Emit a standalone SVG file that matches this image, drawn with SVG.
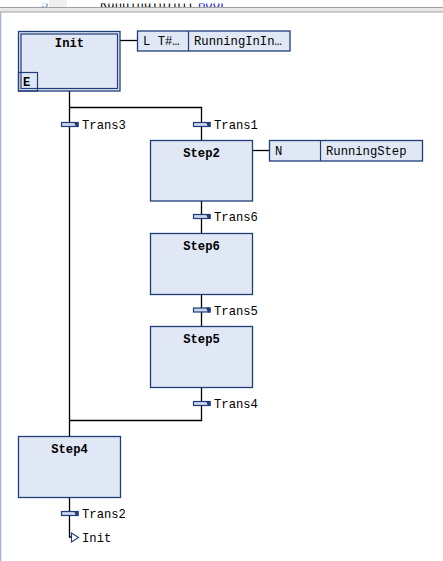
<svg xmlns="http://www.w3.org/2000/svg" width="443" height="561" viewBox="0 0 443 561">
<defs>
<style>
.step{fill:#e1e8f5;stroke:#1f3d78;stroke-width:1.3}
.act{fill:#e1e8f5;stroke:#1f3d78;stroke-width:1.3}
.ln{stroke:#000;stroke-width:1.3;fill:none}
.t{font-family:"Liberation Mono",monospace;font-size:12.2px;fill:#000}
.b{font-weight:bold;text-anchor:middle}
.bar{fill:#c9d5ea;stroke:#1f3d78;stroke-width:1.2}
.notch{fill:#1f3d78}
</style>
<clipPath id="topclip"><rect x="0" y="3.5" width="443" height="3.5"/></clipPath>
</defs>
<rect x="0" y="0" width="443" height="561" fill="#fff"/>
<g id="header">
<rect x="49" y="0" width="18" height="7" fill="#f0f0f0"/>
<g clip-path="url(#topclip)">
<text x="41" y="7.5" class="t" style="fill:#6a8ab8">5</text>
<text x="100" y="7.5" class="t">RunningInInit</text>
<text x="198" y="7.5" class="t" style="fill:#2020d0">BOOL</text>
</g>
<rect x="-1" y="7.5" width="445" height="4.5" fill="#e8e8e8" stroke="#a0a0a0" stroke-width="1"/>
<line x1="0.5" y1="12" x2="0.5" y2="561" stroke="#a3b3d3" stroke-width="1.5"/>
</g>
<g id="connectors">
<line class="ln" x1="69.5" y1="91" x2="69.5" y2="436.5"/>
<polyline class="ln" points="69.5,107.5 201.5,107.5 201.5,140.5"/>
<line class="ln" x1="201.5" y1="201" x2="201.5" y2="233.5"/>
<line class="ln" x1="201.5" y1="294.5" x2="201.5" y2="326.5"/>
<polyline class="ln" points="201.5,387.5 201.5,420.5 69.5,420.5"/>
<polyline class="ln" points="69.5,497.5 69.5,537 72,537"/>
<line class="ln" x1="120" y1="40.5" x2="137.5" y2="40.5"/>
<line class="ln" x1="252.5" y1="150.5" x2="269.5" y2="150.5"/>
</g>
<g id="Init">
<rect class="step" x="18.5" y="31.5" width="101.5" height="59.5"/>
<rect x="21" y="34" width="96.5" height="54.5" fill="none" stroke="#1f3d78" stroke-width="1.2"/>
<rect x="18.5" y="72.5" width="19" height="18.5" fill="none" stroke="#1f3d78" stroke-width="1.2"/>
<text x="69.5" y="47" class="t b">Init</text>
<text x="23" y="86" class="t" font-weight="bold">E</text>
</g>
<g id="InitAction">
<rect class="act" x="137.5" y="31" width="152.5" height="20"/>
<line x1="188.5" y1="31" x2="188.5" y2="51" stroke="#1f3d78" stroke-width="1.2"/>
<text x="143" y="45" class="t">L T#…</text>
<text x="194" y="45" class="t">RunningInIn…</text>
</g>
<g id="Trans3">
<rect class="bar" x="61.5" y="122.5" width="16.5" height="4"/>
<polygon class="notch" points="74,122 78.5,122 78.5,127 76,127"/>
<text x="82" y="128.5" class="t">Trans3</text>
</g>
<g id="Trans1">
<rect class="bar" x="193.5" y="122.5" width="16.5" height="4"/>
<polygon class="notch" points="206,122 210.5,122 210.5,127 208,127"/>
<text x="214" y="128.5" class="t">Trans1</text>
</g>
<g id="Step2">
<rect class="step" x="150.5" y="140.5" width="102" height="60.5"/>
<text x="201.5" y="157" class="t b">Step2</text>
</g>
<g id="Step2Action">
<rect class="act" x="269.5" y="140.5" width="153" height="20.5"/>
<line x1="320.5" y1="140.5" x2="320.5" y2="161" stroke="#1f3d78" stroke-width="1.2"/>
<text x="275" y="155" class="t">N</text>
<text x="326" y="155" class="t">RunningStep</text>
</g>
<g id="Trans6">
<rect class="bar" x="193.5" y="214.5" width="16.5" height="4"/>
<polygon class="notch" points="206,214 210.5,214 210.5,219 208,219"/>
<text x="214" y="221" class="t">Trans6</text>
</g>
<g id="Step6">
<rect class="step" x="150.5" y="233.5" width="102" height="61"/>
<text x="201.5" y="250" class="t b">Step6</text>
</g>
<g id="Trans5">
<rect class="bar" x="193.5" y="308" width="16.5" height="4"/>
<polygon class="notch" points="206,307.5 210.5,307.5 210.5,312.5 208,312.5"/>
<text x="214" y="314.5" class="t">Trans5</text>
</g>
<g id="Step5">
<rect class="step" x="150.5" y="326.5" width="102" height="61"/>
<text x="201.5" y="343" class="t b">Step5</text>
</g>
<g id="Trans4">
<rect class="bar" x="193.5" y="401.5" width="16.5" height="4"/>
<polygon class="notch" points="206,401 210.5,401 210.5,406 208,406"/>
<text x="214" y="408" class="t">Trans4</text>
</g>
<g id="Step4">
<rect class="step" x="18.5" y="436.5" width="102" height="61"/>
<text x="69.5" y="453" class="t b">Step4</text>
</g>
<g id="Trans2">
<rect class="bar" x="61.5" y="511.5" width="16.5" height="4"/>
<polygon class="notch" points="74,511 78.5,511 78.5,516 76,516"/>
<text x="82" y="518" class="t">Trans2</text>
</g>
<g id="JumpInit">
<polygon points="71.5,533 78.5,537.5 71.5,542" fill="#fff" stroke="#1f3d78" stroke-width="1.1"/>
<text x="82" y="542" class="t">Init</text>
</g>
</svg>
